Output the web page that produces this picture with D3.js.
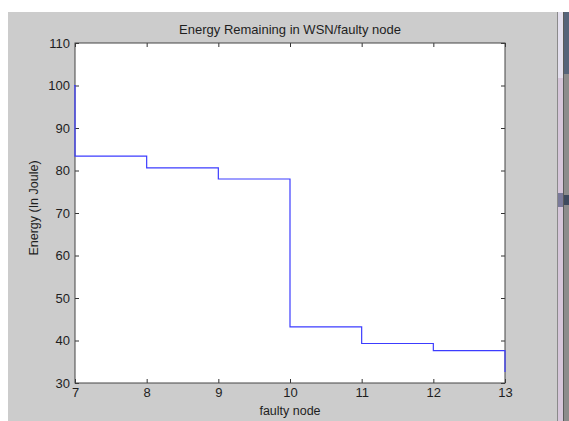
<!DOCTYPE html>
<html>
<head>
<meta charset="utf-8">
<script src="https://cdn.jsdelivr.net/npm/d3@7"></script>
<style>
  body { margin: 0; background: #fff; }
  text { font-family: "Liberation Sans", Arial, sans-serif; fill: #1e1e1e; }
</style>
</head>
<body>
<div id="chart-area"></div>
<script>
// faulty node index and remaining energy (Joule); node 6 sits left of the view
var nodes = [6, 7, 8, 9, 10, 11, 12, 13];
var energy = [100, 83.4, 80.6, 78.0, 43.2, 39.3, 37.6, 32.6];
var xTicks = [7, 8, 9, 10, 11, 12, 13];
var yTicks = [30, 40, 50, 60, 70, 80, 90, 100, 110];

var W = 569, H = 421;
var margin = { left: 75, right: 64, top: 43, bottom: 38 };
var width = W - margin.left - margin.right;
var height = H - margin.top - margin.bottom;

var svg = d3.select('#chart-area')
  .append('svg')
    .attr('width', W)
    .attr('height', H);

// figure background
svg.append('rect')
  .attr('x', 8).attr('y', 12)
  .attr('width', 549).attr('height', H - 12)
  .attr('fill', '#cccccc');

// window edge on the right
svg.append('rect').attr('x', 557).attr('y', 12).attr('width', 1).attr('height', H - 12).attr('fill', '#8a8a8a');
svg.append('rect').attr('x', 558).attr('y', 12).attr('width', 5).attr('height', H - 12).attr('fill', '#d6c6da');
svg.append('rect').attr('x', 558).attr('y', 12).attr('width', 5).attr('height', 66).attr('fill', '#e4e0ee');
svg.append('rect').attr('x', 563).attr('y', 12).attr('width', 1).attr('height', H - 12).attr('fill', '#5a5a5a');
svg.append('rect').attr('x', 564).attr('y', 12).attr('width', 5).attr('height', H - 12).attr('fill', '#8c8c8c');
svg.append('rect').attr('x', 564).attr('y', 12).attr('width', 5).attr('height', 62).attr('fill', '#56647a');
svg.append('rect').attr('x', 564).attr('y', 195).attr('width', 5).attr('height', 10).attr('fill', '#3e4a5e');
svg.append('rect').attr('x', 558).attr('y', 193).attr('width', 5).attr('height', 14).attr('fill', '#7a7a9a');

var area = svg.append('g')
  .attr('transform', 'translate(' + margin.left + ', ' + margin.top + ')');

// X Scale
var x = d3.scaleLinear()
  .domain([7, 13])
  .range([0, width]);

// Y Scale
var y = d3.scaleLinear()
  .domain([30, 110])
  .range([height, 0]);

// plot box
area.append('rect')
  .attr('width', width)
  .attr('height', height)
  .attr('fill', '#fff');

// axes, ticks pointing inward
var fmt = d3.format('d');
var xAxis = area.append('g')
  .attr('transform', 'translate(0, ' + height + ')')
  .call(d3.axisBottom(x).tickValues(xTicks).tickFormat(fmt).tickSizeInner(-4).tickSizeOuter(0).tickPadding(5));
var xTop = area.append('g')
  .call(d3.axisTop(x).tickValues(xTicks).tickSizeInner(-4).tickSizeOuter(0).tickFormat(''));
var yAxis = area.append('g')
  .call(d3.axisLeft(y).tickValues(yTicks).tickFormat(fmt).tickSizeInner(-4).tickSizeOuter(0).tickPadding(5));
var yRight = area.append('g')
  .attr('transform', 'translate(' + width + ', 0)')
  .call(d3.axisRight(y).tickValues(yTicks).tickSizeInner(-4).tickSizeOuter(0).tickFormat(''));

area.selectAll('.domain').remove();
area.selectAll('.tick line').attr('stroke', '#333');
area.selectAll('.tick text')
  .attr('font-size', '13px')
  .attr('font-family', '"Liberation Sans", Arial, sans-serif')
  .attr('fill', '#1a1a1a');

area.append('rect')
  .attr('width', width)
  .attr('height', height)
  .attr('fill', 'none')
  .attr('stroke', '#444')
  .attr('stroke-width', 1);

// clip for the stairs
area.append('clipPath')
  .attr('id', 'plot-clip')
  .append('rect')
    .attr('x', -1).attr('y', -1)
    .attr('width', width + 2).attr('height', height + 2);

var line = d3.line()
  .x(function(d, i) { return x(nodes[i]); })
  .y(function(d) { return y(d); })
  .curve(d3.curveStepAfter);

area.append('path')
  .attr('clip-path', 'url(#plot-clip)')
  .attr('d', line(energy))
  .attr('fill', 'none')
  .attr('stroke', '#3c3cff')
  .attr('stroke-width', 1.2);

// title
svg.append('text')
  .attr('x', margin.left + width / 2)
  .attr('y', 34)
  .attr('font-size', '13px')
  .attr('text-anchor', 'middle')
  .text('Energy Remaining in WSN/faulty node');

// X label
svg.append('text')
  .attr('x', margin.left + width / 2)
  .attr('y', 415)
  .attr('font-size', '12.5px')
  .attr('text-anchor', 'middle')
  .text('faulty node');

// Y label
svg.append('text')
  .attr('x', -(margin.top + height / 2) + 5)
  .attr('y', 38)
  .attr('font-size', '12.5px')
  .attr('text-anchor', 'middle')
  .attr('transform', 'rotate(-90)')
  .text('Energy (In Joule)');
</script>
</body>
</html>
